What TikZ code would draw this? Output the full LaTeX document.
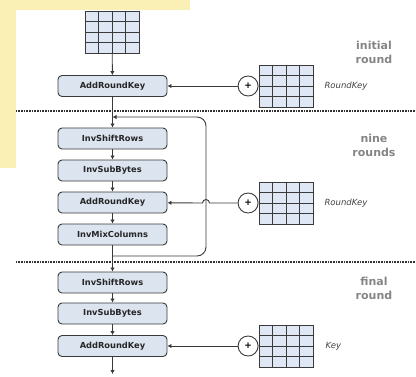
\documentclass[tikz,border=0pt]{standalone}
\usepackage{fontspec}
\setsansfont{DejaVu Sans}
\usetikzlibrary{arrows.meta,calc,positioning}

\definecolor{boxfill}{HTML}{DCE4F0}
\definecolor{cellfill}{HTML}{DEE7F3}
\definecolor{edgegray}{HTML}{3A3A3A}
\definecolor{labelgray}{HTML}{858585}
\definecolor{paleyellow}{HTML}{FAEFB4}

\tikzset{
  opbox/.style={draw=edgegray, fill=boxfill, line width=0.9pt, rounded corners=4pt,
    minimum width=109pt, minimum height=21pt, inner sep=0pt,
    font=\sffamily\bfseries\fontsize{8.3}{9}\selectfont, text=black!85},
  keygrid/.style={draw=edgegray, fill=cellfill, line width=0.9pt,
    minimum width=54pt, minimum height=42pt, inner sep=0pt,
    path picture={
      \foreach \k in {1,2,3}{
        \draw[edgegray, line width=0.9pt]
          ($(path picture bounding box.north west)!\k/4!(path picture bounding box.north east)$) --
          ($(path picture bounding box.south west)!\k/4!(path picture bounding box.south east)$);
        \draw[edgegray, line width=0.9pt]
          ($(path picture bounding box.north west)!\k/4!(path picture bounding box.south west)$) --
          ($(path picture bounding box.north east)!\k/4!(path picture bounding box.south east)$);
      }}},
  xorop/.style={circle, draw=edgegray, line width=0.9pt, fill=white, minimum size=20pt,
    inner sep=0pt, font=\sffamily\bfseries\fontsize{9}{9}\selectfont},
  roundlabel/.style={align=center, text=labelgray, font=\sffamily\bfseries\fontsize{11}{14}\selectfont},
  keylabel/.style={anchor=west, text=black!75, font=\sffamily\itshape\fontsize{8.5}{9}\selectfont},
  flow/.style={draw=edgegray, line width=0.9pt, -{Latex[length=4pt,width=4.5pt]}},
  divider/.style={draw=black!80, line width=1.3pt, dash pattern=on 0.9pt off 0.7pt}
}

\begin{document}
\begin{tikzpicture}[x=1pt,y=-1pt]
\useasboundingbox (0,0) rectangle (416,376);
% slide background
\fill[paleyellow] (0pt,0pt) rectangle (16pt,-168pt);
\fill[paleyellow] (0pt,0pt) rectangle (190pt,-10pt);

% dividers
\draw[divider] (16,111) -- (416,111);
\draw[divider] (16,262) -- (416,262);

% state and the three rounds
\node[keygrid] (state) at (112,32) {};
\node[opbox] (ark0) at (112.5,86) {AddRoundKey};

\node[opbox] (isr1) at (112.5,138.5) {InvShiftRows};
\node[opbox] (isb1) at (112.5,170.5) {InvSubBytes};
\node[opbox] (ark1) at (112.5,202.5) {AddRoundKey};
\node[opbox] (imc1) at (112.5,234.5) {InvMixColumns};

\node[opbox] (isr2) at (112.5,282.5) {InvShiftRows};
\node[opbox] (isb2) at (112.5,313.5) {InvSubBytes};
\node[opbox] (ark2) at (112.5,346) {AddRoundKey};
\coordinate (out) at (112.5,374);

% round keys
\node[keygrid] (key0) at (286,86) {};
\node[xorop, left=0pt of key0] (xor0) {+};
\node[keylabel] (rk0) at (321,86) {RoundKey};

\node[keygrid] (key1) at (286,203) {};
\node[xorop, left=0pt of key1] (xor1) {+};
\node[keylabel] (rk1) at (321,203) {RoundKey};

\node[keygrid] (key2) at (286,346) {};
\node[xorop, left=0pt of key2] (xor2) {+};
\node[keylabel] (rk2) at (322,346) {Key};

% round names
\node[roundlabel] (lbl0) at (374,52) {initial\\round};
\node[roundlabel] (lbl1) at (374,145) {nine\\rounds};
\node[roundlabel] (lbl2) at (374,288) {final\\round};

% data path
\draw[flow] (state) -- (ark0);
\draw[flow] (ark0) -- (isr1);
\draw[flow] (isr1) -- (isb1);
\draw[flow] (isb1) -- (ark1);
\draw[flow] (ark1) -- (imc1);
\draw[flow] (imc1) -- (isr2);
\draw[flow] (isr2) -- (isb2);
\draw[flow] (isb2) -- (ark2);
\draw[flow] (ark2) -- (out);

% loop back for the nine rounds
\coordinate (split) at (112.5,256);
\coordinate (merge) at (112.5,117);
\draw[flow, rounded corners=9pt] (split) -- ++(93.5,0) |- (merge);

% key additions
\draw[flow] (xor0) -- (ark0);
\coordinate (hop) at (206,203);
\draw[flow] (xor1) -- ([xshift=3.5pt]hop) arc[start angle=0,end angle=-180,radius=3.5] -- (ark1);
\draw[flow] (xor2) -- (ark2);
\end{tikzpicture}
\end{document}
